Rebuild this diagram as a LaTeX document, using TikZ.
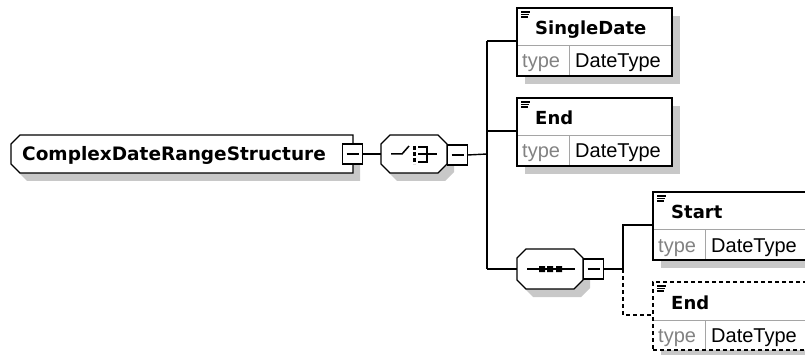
\documentclass[tikz,border=0pt]{standalone}
\usepackage{fontspec}
\newfontfamily\dvs{DejaVu Sans}
\newfontfamily\lis{Liberation Sans}
\usetikzlibrary{calc}
\definecolor{shadowgray}{RGB}{200,200,200}
\definecolor{typegray}{RGB}{130,130,130}
\definecolor{divgray}{RGB}{165,165,165}
\tikzset{
  conn/.style={line width=1.4pt, draw=black},
  elemrect/.style={draw=black, line width=1.4pt, fill=white, anchor=north west,
    minimum width=155pt, minimum height=68pt, inner sep=0pt, outer sep=0pt},
  divline/.style={draw=divgray, line width=1pt},
  nametext/.style={font=\dvs\bfseries\fontsize{18}{20}\selectfont, anchor=base west, inner sep=0pt},
  roottext/.style={font=\dvs\bfseries\fontsize{18.5}{20}\selectfont, anchor=base west, inner sep=0pt},
  typetext/.style={font=\lis\fontsize{20}{22}\selectfont, anchor=base west, inner sep=0pt},
  minusbox/.style={draw=black, line width=1.4pt, fill=white, minimum width=20pt,
    minimum height=20pt, inner sep=0pt, outer sep=0pt},
  ghost/.style={inner sep=0pt, outer sep=0pt, anchor=north west},
  optdash/.style={dash pattern=on 4pt off 3pt},
  shapeline/.style={draw=black, line width=1.4pt, fill=white},
  symline/.style={draw=black, line width=1.5pt},
}
\newcommand{\elembox}[5]{%
  \fill[shadowgray] (#2+8,#3+8) rectangle (#2+163,#3+76);
  \node[elemrect,#5] (#1) at (#2,#3) {};
  \draw[divline] (#2+1,#3+38) -- (#2+154,#3+38);
  \draw[divline] (#2+52,#3+38) -- (#2+52,#3+67);
  \draw[line width=1.1pt] (#2+4,#3+4) -- (#2+13,#3+4) (#2+4,#3+6.5) -- (#2+12,#3+6.5) (#2+4,#3+9) -- (#2+11,#3+9);
  \node[nametext] (#1-name) at (#2+18,#3+27) {#4};
  \node[typetext, text=typegray] (#1-type) at (#2+5,#3+60) {type};
  \node[typetext] (#1-tval) at (#2+58,#3+60) {DateType};
  \coordinate (#1-c) at (#2,#3+33);
}
\begin{document}
\begin{tikzpicture}[x=1pt,y=-1pt]
\useasboundingbox (0,0) rectangle (805,355);
\clip (0,0) rectangle (805,355);
\fill[white] (0,0) rectangle (805,355);

% ---------- root ----------
\fill[shadowgray] (27,143) -- (360,143) -- (360,181) -- (27,181) -- (18,172) -- (18,152) -- cycle;
\draw[shapeline] (20,135) -- (353,135) -- (353,173) -- (20,173) -- (11,164) -- (11,144) -- cycle;
\node[ghost, minimum width=342pt, minimum height=38pt] (root) at (11,135) {};
\node[roottext] (roottxt) at (22,161) {ComplexDateRangeStructure};
\node[minusbox] (rootm) at (352.5,154) {};
\draw[symline] ([xshift=4pt]rootm.west) -- ([xshift=-4pt]rootm.east);

% ---------- choice ----------
\node[ghost, minimum width=66pt, minimum height=38pt] (choice) at (381,135) {};
\draw[conn] (rootm.east) -- (choice.west);
\fill[shadowgray] (397,143) -- (445,143) -- (454,152) -- (454,172) -- (445,181) -- (397,181) -- (388,172) -- (388,152) -- cycle;
\draw[shapeline] (390,135) -- (438,135) -- (447,144) -- (447,164) -- (438,173) -- (390,173) -- (381,164) -- (381,144) -- cycle;
\draw[symline] (391,154) -- (402,154) -- (409,146);
\draw[draw=black, line width=3pt, dash pattern=on 4pt off 2pt] (414,146) -- (414,164);
\draw[symline] (418,147) -- (427,147) -- (427,162) -- (418,162);
\draw[symline] (418,154) -- (437,154);
\node[minusbox] (choicem) at (457.5,155) {};
\draw[symline] ([xshift=4pt]choicem.west) -- ([xshift=-4pt]choicem.east);

% ---------- sequence ----------
\node[ghost, minimum width=66pt, minimum height=40pt] (seq) at (517,249) {};
\fill[shadowgray] (533,257) -- (581,257) -- (590,266) -- (590,288) -- (581,297) -- (533,297) -- (524,288) -- (524,266) -- cycle;
\draw[shapeline] (526,249) -- (574,249) -- (583,258) -- (583,280) -- (574,289) -- (526,289) -- (517,280) -- (517,258) -- cycle;
\draw[symline] (527,269) -- (575,269);
\fill[black] (539,266) rectangle (545,272) (547,266) rectangle (553,272) (556,266) rectangle (562,272);
\node[minusbox] (seqm) at (593.5,269) {};
\draw[symline] ([xshift=4pt]seqm.west) -- ([xshift=-4pt]seqm.east);

% ---------- elements ----------
\elembox{sd}{517}{8}{SingleDate}{}
\elembox{end}{517}{98}{End}{}
\elembox{st}{653}{192}{Start}{}
\elembox{en2}{653}{282}{End}{optdash}

% ---------- connectors ----------
\coordinate (bus) at (487,154);
\draw[conn] (choicem.east) -- (bus);
\draw[conn] (bus |- sd-c) -- (bus |- seq.west);
\draw[conn] (bus |- sd-c) -- (sd-c);
\draw[conn] (bus |- end-c) -- (end-c);
\draw[conn] (bus |- seq.west) -- (seq.west);
\coordinate (sbus) at (623,269);
\draw[conn] (seqm.east) -- (sbus);
\draw[conn] (sbus) |- (st-c);
\draw[conn,optdash] (sbus) |- (en2-c);
\end{tikzpicture}
\end{document}
